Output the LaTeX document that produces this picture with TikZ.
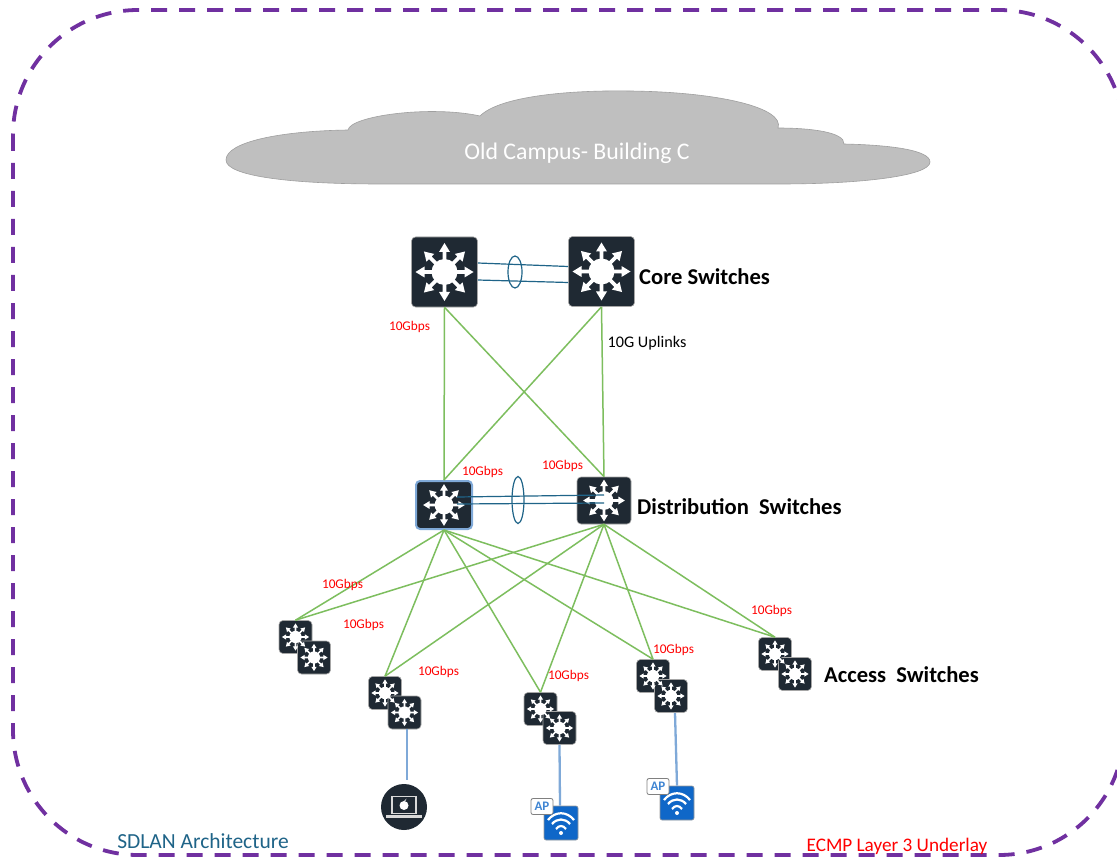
\documentclass[tikz,border=0pt]{standalone}
\usepackage{fontspec}
\setmainfont{Carlito}
\usepackage{xcolor}
\usetikzlibrary{shapes, positioning, calc}
\definecolor{switchdark}{HTML}{1F2933}
\definecolor{borderpurple}{HTML}{7030A0}
\definecolor{linkgreen}{HTML}{7DBE5E}
\definecolor{lagblue}{HTML}{1F6488}
\definecolor{accessblue}{HTML}{7FA9D8}
\definecolor{apblue}{HTML}{0F67C8}
\definecolor{cloudgray}{HTML}{BFBFBF}
\definecolor{titleteal}{HTML}{1F6488}

\tikzset{
    switchicon/.pic={
        \fill[white] (0,0) circle (13);
        \foreach \a in {0,45,...,315} {
            \fill[white, rotate=\a] (11,-1.8) -- (20,-1.8) -- (20,-5.5) -- (29,0) -- (20,5.5) -- (20,1.8) -- (11,1.8) -- cycle;
        }
    },
    wifiicon/.pic={
        \draw[white, line width=2.2pt] (-13,-3) .. controls (-6,-12) and (6,-12) .. (13,-3);
        \draw[white, line width=2.2pt] (-9,1) .. controls (-4,-5) and (4,-5) .. (9,1);
        \draw[white, line width=2.2pt] (-5,6) .. controls (-2,2) and (2,2) .. (5,6);
        \fill[white] (0,10) circle (2);
    },
    laptopicon/.pic={
        \draw[white!85!black, line width=1.3pt] (-12,-10.5) rectangle (12,6.5);
        \fill[white!85!black] (-18,8) rectangle (18,11);
        \fill[white] (0,-1.5) circle (4.5);
        \fill[white] (0,-6) -- (2.5,-8.5) -- (1,-5.5) -- cycle;
    }
}

\begin{document}
\begin{tikzpicture}[
        x=1pt, y=-1pt,
        switchbox/.style={rectangle, rounded corners=4pt, draw=gray!70, fill=switchdark, line width=0.6pt, inner sep=0pt},
        corebox/.style={switchbox, minimum width=66pt, minimum height=70pt},
        accessbox/.style={switchbox, minimum width=33pt, minimum height=33pt},
        apbox/.style={rectangle, rounded corners=2pt, draw=gray!80, fill=apblue, line width=0.6pt, minimum width=34pt, minimum height=34pt, inner sep=0pt},
        aptag/.style={rectangle, rounded corners=2pt, draw=gray, fill=white, line width=0.8pt, minimum width=22pt, minimum height=16pt, inner sep=0pt, font=\fontsize{13}{13}\selectfont\bfseries, text=apblue!80!white},
        lagring/.style={draw=lagblue, line width=1.2pt, ellipse, inner sep=0pt},
        link/.style={linkgreen, line width=1.5pt},
        lag/.style={lagblue, line width=1.2pt},
        uplink/.style={accessblue, line width=2.3pt},
        speed/.style={red, font=\fontsize{13.3}{13.3}\selectfont, inner sep=0pt},
        tier/.style={font=\fontsize{22.6}{22.6}\selectfont\bfseries, inner sep=0pt, anchor=west}
    ]
        \useasboundingbox (0,0) rectangle (1117,861);
        \fill[white] (0,0) rectangle (1117,861);

        % outer boundary
        \draw[borderpurple, line width=3.8pt, dash pattern=on 16pt off 12pt, rounded corners=125pt] (13,10) rectangle (1124,855);

        % cloud
        \draw[gray!75, fill=cloudgray, line width=0.6pt] (348,130)
            .. controls (350,116) and (430,105) .. (480,116)
            .. controls (500,96) and (570,90) .. (630,91)
            .. controls (720,92) and (785,108) .. (778,128)
            .. controls (810,128) and (845,132) .. (844,144)
            .. controls (890,145) and (930,150) .. (930,162)
            .. controls (930,176) and (860,184) .. (780,184)
            -- (380,184)
            .. controls (290,184) and (226,176) .. (226,160)
            .. controls (226,142) and (280,131) .. (348,130) -- cycle;
        \node[white, font=\fontsize{23.8}{23.8}\selectfont, inner sep=0pt] (cloudlabel) at (577,153.5) {Old Campus- Building C};

        % core and distribution
        \node[corebox] (core1) at (444.5,272) {};
        \node[corebox] (core2) at (601.5,271.5) {};
        \node[switchbox, draw=accessblue, line width=2pt, minimum width=56pt, minimum height=48pt] (dist1) at (444,505) {};
        \node[switchbox, minimum width=54pt, minimum height=47pt] (dist2) at (604,500.5) {};

        % access
        \node[accessbox] (acc1a) at (295.5,637) {};
        \node[accessbox] (acc1b) at (314,657.5) {};
        \node[accessbox] (acc2a) at (385,693) {};
        \node[accessbox] (acc2b) at (404.5,712.5) {};
        \node[accessbox] (acc3a) at (540.5,709) {};
        \node[accessbox] (acc3b) at (559.5,728) {};
        \node[accessbox] (acc4a) at (653,676) {};
        \node[accessbox] (acc4b) at (671,696) {};
        \node[accessbox] (acc5a) at (775,654) {};
        \node[accessbox] (acc5b) at (795,674) {};

        \pic at (core1) {switchicon};
        \pic at (core2) {switchicon};
        \pic[scale=0.72] at (dist1) {switchicon};
        \pic[scale=0.72] at (dist2) {switchicon};
        \foreach \sw in {acc1a,acc1b,acc2a,acc2b,acc3a,acc3b,acc4a,acc4b,acc5a,acc5b} {
            \pic[scale=0.47] at (\sw) {switchicon};
        }

        % uplinks
        \foreach \up in {core1,core2} {
            \foreach \dn in {dist1,dist2} {
                \draw[link] (\up.south) -- (\dn.north);
            }
        }
        \foreach \up in {dist1,dist2} {
            \foreach \dn in {acc1a,acc2a,acc3a,acc4a,acc5a} {
                \draw[link] (\up.south) -- (\dn.north);
            }
        }

        % port channels
        \draw[lag] ([yshift=9pt]core1.east) -- ([yshift=5pt]core2.west);
        \draw[lag] ([yshift=-8pt]core1.east) -- ([yshift=-11pt]core2.west);
        \node[lagring, minimum width=14pt, minimum height=32pt] (lagcore) at (515,272) {};
        \draw[lag] ([xshift=13pt,yshift=8pt]dist1.center) -- ([yshift=5.5pt]dist2.center);
        \draw[lag] ([xshift=13pt,yshift=1pt]dist1.center) -- ([yshift=-2.5pt]dist2.center);
        \node[lagring, minimum width=12pt, minimum height=47pt] (lagdist) at (518,500) {};

        % endpoints
        \node[circle, fill=switchdark, minimum size=46pt, inner sep=0pt] (mac) at (404,807) {};
        \pic at (mac) {laptopicon};
        \node[apbox] (ap1) at (561,823) {};
        \pic at (ap1) {wifiicon};
        \node[aptag] (tag1) at (542,806.5) {AP};
        \node[apbox] (ap2) at (677,803) {};
        \pic at (ap2) {wifiicon};
        \node[aptag] (tag2) at (658,786.5) {AP};

        \draw[uplink, shorten >=4pt] ([xshift=2.5pt]acc2b.south) -- ([xshift=3pt]mac.north);
        \draw[uplink] (acc3b.south) -- ([xshift=-1pt]ap1.north);
        \draw[uplink] ([xshift=4pt]acc4b.south) -- (ap2.north);

        % labels
        \node[speed] (sp1) at (409.5,327) {10Gbps};
        \node[speed] (sp2) at (482.5,471.5) {10Gbps};
        \node[speed] (sp3) at (562.5,466) {10Gbps};
        \node[speed] (sp4) at (342.5,585) {10Gbps};
        \node[speed] (sp5) at (363.5,625) {10Gbps};
        \node[speed] (sp6) at (438.5,672) {10Gbps};
        \node[speed] (sp7) at (568.5,676) {10Gbps};
        \node[speed] (sp8) at (673.5,650) {10Gbps};
        \node[speed] (sp9) at (771.5,611) {10Gbps};
        \node[font=\fontsize{16.2}{16.2}\selectfont, inner sep=0pt] (uplinks) at (647,343) {10G Uplinks};
        \node[tier] (coretier) at (639,277) {Core Switches};
        \node[tier] (disttier) at (637,507) {Distribution~~Switches};
        \node[tier] (acctier) at (824,675) {Access~~Switches};
        \node[text=titleteal, font=\fontsize{21.5}{21.5}\selectfont, inner sep=0pt] (archlabel) at (203,841) {SDLAN Architecture};
        \node[red, font=\fontsize{19.2}{19.2}\selectfont, inner sep=0pt] (ecmplabel) at (897,846) {ECMP Layer 3 Underlay};
    \end{tikzpicture}
\end{document}
